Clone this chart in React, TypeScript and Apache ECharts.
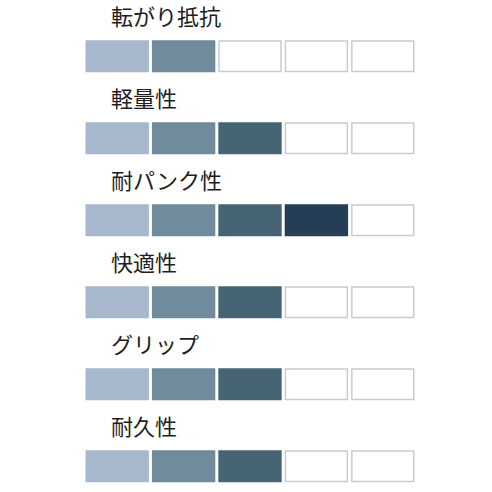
import React, { useEffect, useRef } from "react";
import * as echarts from "echarts";

const categories = ["転がり抵抗", "軽量性", "耐パンク性", "快適性", "グリップ", "耐久性"];
const scores = [2, 3, 4, 3, 3, 3];
const maxScore = 5;
const levelColors = ["#a8b8cc", "#6f8b9c", "#476474", "#243f55", "#1a2e40"];

export default function App() {
  const ref = useRef<HTMLDivElement>(null);
  useEffect(() => {
    if (!ref.current) return;
    const chart = echarts.init(ref.current, null, { renderer: "svg" });
    const cells: number[][] = [];
    categories.forEach((_, r) => {
      for (let c = 0; c < maxScore; c++) cells.push([c, r, c < scores[r] ? 1 : 0]);
    });
    const rowPx = 83.4;
    chart.setOption({
      animation: false,
      backgroundColor: "#ffffff",
      grid: { left: 84, right: 76, top: 0, height: rowPx * 6 },
      xAxis: { type: "value", min: 0, max: maxScore, show: false },
      yAxis: { type: "value", min: 0, max: categories.length, inverse: true, show: false },
      series: [
        {
          type: "custom",
          data: cells,
          renderItem: (params: any, api: any) => {
            const c = api.value(0);
            const r = api.value(1);
            const filled = api.value(2) === 1;
            const p0 = api.coord([c, r]);
            const p1 = api.coord([c + 1, r + 1]);
            const unitW = p1[0] - p0[0];
            const unitH = p1[1] - p0[1];
            const gap = 1.5;
            const x = p0[0] + gap;
            const y = p0[1] + unitH * (41 / rowPx);
            const w = unitW - gap * 2;
            const h = 32;
            return {
              type: "rect",
              shape: { x: x + 0.75, y: y + 0.75, width: w - 1.5, height: h - 1.5 },
              style: filled
                ? { fill: levelColors[c], stroke: levelColors[c], lineWidth: 1.5 }
                : { fill: "#ffffff", stroke: "#c6ccd2", lineWidth: 1.5 },
            };
          },
        },
        {
          type: "custom",
          data: categories.map((name, r) => [0, r, name]),
          renderItem: (params: any, api: any) => {
            const r = api.value(1);
            const p0 = api.coord([0, r]);
            const p1 = api.coord([1, r + 1]);
            const unitH = p1[1] - p0[1];
            return {
              type: "text",
              x: p0[0] + 27,
              y: p0[1] + unitH * (15 / rowPx),
              style: {
                text: categories[r],
                fill: "#1e1e1e",
                font: '22px "Noto Sans CJK JP"',
                textVerticalAlign: "middle",
                verticalAlign: "middle",
                align: "left",
              },
            };
          },
        },
      ],
    });
    return () => chart.dispose();
  }, []);
  return (
    <div
      ref={ref}
      style={{ position: "fixed", left: 0, top: 0, width: 492, height: 492, background: "#fff" }}
    />
  );
}
